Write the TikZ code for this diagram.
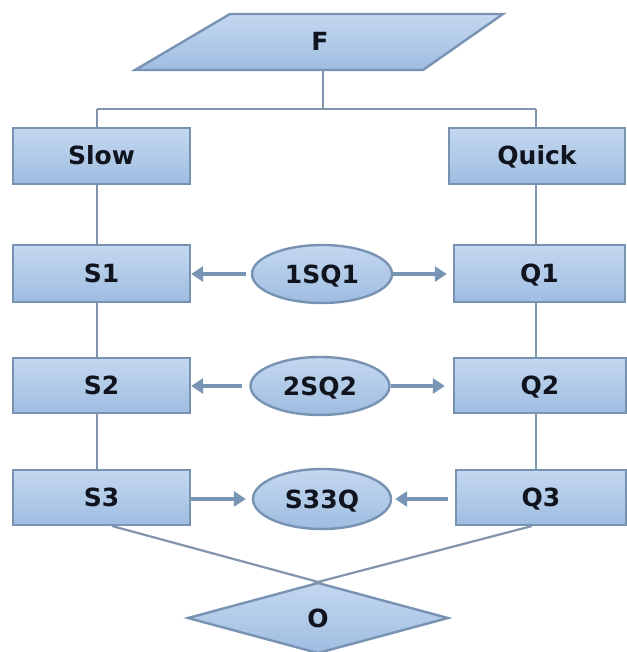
\documentclass[tikz,border=0pt]{standalone}
\usepackage{fontspec}
\setmainfont{DejaVu Sans}
\usetikzlibrary{shapes.geometric,arrows.meta}
\definecolor{boxfillA}{HTML}{C4D8EF}
\definecolor{boxfillB}{HTML}{9FBDE1}
\definecolor{boxline}{HTML}{7893B2}
\definecolor{connline}{HTML}{8094AB}
\definecolor{arrowcol}{HTML}{7895B5}
\definecolor{txtcol}{HTML}{10141E}
\tikzset{
  shapefill/.style={top color=boxfillA, bottom color=boxfillB, draw=boxline, line width=2.4pt},
  txtfmt/.style={text=txtcol, font=\fontsize{25}{25}\selectfont\bfseries, text height=18pt, text depth=0pt},
  procbox/.style={shapefill, rectangle, inner sep=0pt, txtfmt},
  linkell/.style={shapefill, ellipse, inner sep=0pt, txtfmt},
  plaintext/.style={inner sep=0pt, txtfmt},
  conn/.style={draw=connline, line width=2.2pt},
  flowarrow/.style={draw=arrowcol, line width=3.4pt, -{Triangle[length=12pt,width=15pt]}},
}
\begin{document}
\begin{tikzpicture}[x=1pt,y=-1pt]
\useasboundingbox (0,0) rectangle (626,652);
% column guide coordinates
\coordinate (lx) at (97,0);
\coordinate (rx) at (536,0);
\coordinate (bus) at (0,109);
% top parallelogram
\draw[shapefill] (135,70) -- (230,14) -- (503,14) -- (423,70) -- cycle;
\node[plaintext] (F) at (320,42) {F};
\coordinate (Fb) at (323,70);
% boxes
\node[procbox, minimum width=177pt, minimum height=56pt] (Slow) at (101.5,156) {Slow};
\node[procbox, minimum width=176pt, minimum height=56pt] (Quick) at (537,156) {Quick};
\node[procbox, minimum width=177pt, minimum height=57pt] (S1) at (101.5,273.5) {S1};
\node[procbox, minimum width=171pt, minimum height=57pt] (Q1) at (539.5,273.5) {Q1};
\node[procbox, minimum width=177pt, minimum height=55pt] (S2) at (101.5,385.5) {S2};
\node[procbox, minimum width=172pt, minimum height=55pt] (Q2) at (540,385.5) {Q2};
\node[procbox, minimum width=177pt, minimum height=55pt] (S3) at (101.5,497.5) {S3};
\node[procbox, minimum width=170pt, minimum height=55pt] (Q3) at (541,497.5) {Q3};
% ellipses
\node[linkell, minimum width=140pt, minimum height=58pt] (E1) at (322,274) {1SQ1};
\node[linkell, minimum width=139pt, minimum height=58pt] (E2) at (320,386) {2SQ2};
\node[linkell, minimum width=138pt, minimum height=60pt] (E3) at (322,499) {S33Q};
% bottom diamond
\draw[shapefill] (188,618) -- (318,583) -- (448,618) -- (318,653) -- cycle;
\node[plaintext] (O) at (318,618) {O};
\coordinate (Ot) at (318,583);
\coordinate (S3b) at (112,526);
\coordinate (Q3b) at (532,526);
% connectors
\draw[conn] (Fb) -- (Fb |- bus);
\draw[conn] (lx |- bus) -- (rx |- bus);
\draw[conn] (lx |- bus) -- (Slow.north -| lx);
\draw[conn] (rx |- bus) -- (Quick.north -| rx);
\draw[conn] (Slow.south -| lx) -- (S1.north -| lx);
\draw[conn] (S1.south -| lx) -- (S2.north -| lx);
\draw[conn] (S2.south -| lx) -- (S3.north -| lx);
\draw[conn] (Quick.south -| rx) -- (Q1.north -| rx);
\draw[conn] (Q1.south -| rx) -- (Q2.north -| rx);
\draw[conn] (Q2.south -| rx) -- (Q3.north -| rx);
\draw[conn] (S3b) -- ([xshift=4pt]Ot);
\draw[conn] (Q3b) -- ([xshift=-4pt]Ot);
% arrows
\draw[flowarrow] ([xshift=-5pt]E1.west) -- (S1.east |- E1.west);
\draw[flowarrow] (E1.east) -- ([xshift=-6pt]Q1.west |- E1.east);
\draw[flowarrow] ([xshift=-7pt]E2.west) -- (S2.east |- E2.west);
\draw[flowarrow] (E2.east) -- ([xshift=-8pt]Q2.west |- E2.east);
\draw[flowarrow] (S3.east |- E3.west) -- ([xshift=-6pt]E3.west);
\draw[flowarrow] ([xshift=-7pt]Q3.west |- E3.east) -- ([xshift=3pt]E3.east);
\end{tikzpicture}
\end{document}
